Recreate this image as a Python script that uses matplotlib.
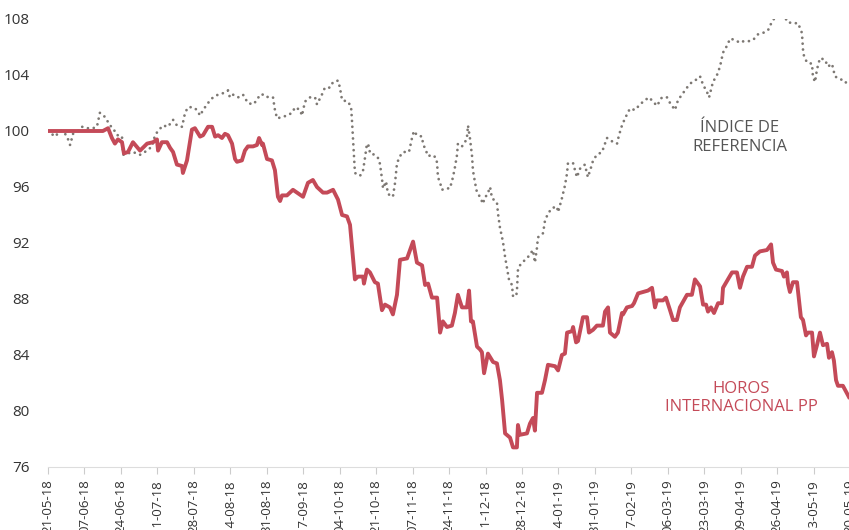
"""
Horos Internacional PP vs benchmark index (base 100)
"""

import numpy as np
import pandas as pd

import matplotlib
matplotlib.use("Agg")
import matplotlib.pyplot as plt
import matplotlib.dates as mdates

START = "2018-05-21"

# days since START, value
fund_day = [0, 25.6, 28.0, 29.8, 31.2, 32.6, 34.5, 35.4, 37.3, 39.6, 42.9, 46.2, 49.0, 50.8,
            51.3, 53.1, 55.5, 56.9, 58.3, 60.1, 62.5, 62.9, 64.8, 67.1, 68.5, 70.9, 72.3,
            74.6, 76.5, 77.9, 79.3, 81.1, 82.5, 83.9, 85.8, 87.2, 88.1, 90.4, 91.8, 93.2,
            95.6, 97.4, 98.4, 99.8, 100.2, 102.1, 104.4, 105.8, 107.2, 108.2, 109.1, 111.4,
            114.2, 118.9, 121.2, 123.5, 125.4, 128.2, 130.1, 132.9, 135.2, 137.1, 139.4,
            140.8, 143.1, 144.5, 146.9, 147.3, 148.7, 150.1, 152.4, 153.8, 155.7, 157.1,
            159.4, 160.8, 162.7, 164.1, 167.4, 168.8, 170.2, 172.0, 174.4, 175.8, 177.2,
            179.0, 181.4, 182.8, 184.1, 186.0, 188.3, 189.7, 191.1, 193.0, 195.3, 196.3,
            197.2, 198.1, 200.0, 201.4, 202.3, 203.3, 205.1, 207.5, 209.3, 210.7, 211.7,
            213.1, 215.4, 216.8, 218.6, 219.1, 220.0, 223.3, 224.7, 226.1, 227.0, 228.0,
            230.3, 231.7, 233.1, 236.4, 237.8, 239.6, 241.0, 242.0, 244.3, 244.8, 246.2,
            247.1, 249.4, 251.3, 252.2, 254.1, 255.9, 258.7, 259.7, 261.1, 262.0, 264.3,
            265.7, 267.6, 268.1, 269.9, 272.3, 273.2, 275.1, 277.4, 279.7, 281.6, 283.0,
            283.9, 286.7, 288.1, 290.0, 291.4, 293.2, 294.6, 297.9, 300.2, 301.6, 304.0,
            305.4, 306.8, 307.7, 309.1, 310.5, 312.4, 314.2, 314.7, 317.0, 318.9, 321.2,
            322.6, 324.0, 325.9, 328.2, 329.6, 331.9, 335.2, 337.1, 338.0, 339.4, 342.2,
            343.1, 344.5, 345.0, 345.9, 347.3, 349.2, 351.0, 352.0, 353.4, 354.3, 356.2,
            357.1, 358.5, 359.9, 361.3, 363.2, 364.1, 365.5, 366.4, 367.4, 368.3, 370.6,
            372.0, 373.4]
fund_val = [100.0, 100.0, 100.2, 99.5, 99.1, 99.4, 99.2, 98.4, 98.5, 99.2, 98.6, 99.1, 99.2, 99.4,
            98.6, 99.2, 99.2, 98.8, 98.5, 97.6, 97.5, 97.0, 97.9, 100.1, 100.2, 99.6, 99.7,
            100.3, 100.3, 99.6, 99.7, 99.5, 99.8, 99.7, 99.1, 98.0, 97.8, 97.9, 98.6, 98.9,
            98.9, 99.0, 99.5, 99.0, 99.1, 98.0, 97.9, 97.2, 95.3, 95.0, 95.4, 95.4,
            95.8, 95.3, 96.3, 96.5, 96.0, 95.6, 95.6, 95.8, 95.1, 94.0, 93.9,
            93.3, 89.4, 89.6, 89.6, 89.1, 90.1, 89.9, 89.2, 89.1, 87.2, 87.6,
            87.4, 86.9, 88.3, 90.8, 90.9, 91.5, 92.1, 90.6, 90.4, 89.0, 89.1,
            88.1, 88.1, 85.6, 86.4, 86.0, 86.1, 87.0, 88.3, 87.4, 87.4, 88.6,
            86.4, 86.4, 84.6, 84.4, 84.2, 82.7, 84.1, 83.5, 83.4, 82.2, 80.8,
            78.4, 78.1, 77.4, 77.4, 79.0, 78.3, 78.4, 79.1, 79.5, 78.6, 81.3,
            81.3, 82.2, 83.3, 83.2, 82.9, 84.0, 84.1, 85.6, 85.7, 86.0, 84.9,
            85.0, 86.7, 86.7, 85.6, 85.8, 86.1, 86.1, 87.1, 87.4, 85.6, 85.3,
            85.6, 87.0, 86.9, 87.4, 87.5, 87.7, 88.4, 88.5, 88.6, 88.8, 87.4,
            87.9, 87.9, 88.1, 87.2, 86.5, 86.5, 87.4, 88.3, 88.3, 89.4, 88.9,
            87.6, 87.6, 87.1, 87.4, 87.0, 87.7, 87.7, 88.8, 89.4, 89.9, 89.9,
            88.8, 89.6, 90.3, 90.3, 91.1, 91.4, 91.5, 91.9, 90.6, 90.1, 90.0,
            89.6, 89.9, 89.1, 88.5, 89.2, 89.2, 86.7, 86.5, 85.4, 85.6, 85.6,
            83.9, 84.7, 85.6, 84.7, 84.8, 83.8, 84.2, 83.6, 82.2, 81.8, 81.8,
            81.4, 81.0]

index_day = [0, 3.3, 5.6, 7.0, 8.9, 10.3, 11.7, 14.0, 15.9, 18.2, 21.0, 22.8, 24.2, 26.6,
             28.9, 30.3, 32.2, 33.6, 34.5, 35.0, 37.3, 39.6, 42.9, 46.2, 48.5, 49.9, 51.3,
             53.6, 55.9, 58.3, 60.1, 62.5, 63.9, 65.3, 67.6, 69.5, 70.9, 72.3, 74.6, 76.9,
             79.3, 81.6, 83.9, 84.8, 86.2, 88.6, 90.9, 93.2, 95.6, 97.4, 98.8, 101.2, 102.6,
             104.9, 105.8, 106.8, 109.1, 111.4, 113.8, 115.2, 117.5, 118.4, 119.8, 122.1,
             124.5, 125.4, 127.7, 129.1, 131.5, 132.9, 135.2, 136.1, 137.1, 139.9, 141.3,
             141.7, 142.2, 142.7, 143.1, 145.5, 146.9, 147.8, 148.7, 149.7, 150.1, 152.4,
             154.3, 154.8, 155.7, 156.2, 157.6, 158.5, 160.8, 161.8, 162.7, 164.1, 165.5,
             168.3, 169.7, 170.6, 172.0, 174.4, 174.8, 176.2, 177.2, 179.0, 180.9, 181.4,
             181.8, 182.8, 183.7, 185.1, 187.4, 188.8, 189.7, 190.7, 191.1, 193.0, 194.4,
             195.3, 195.8, 196.7, 197.7, 198.1, 199.1, 200.0, 201.4, 202.8, 203.7, 204.7,
             206.1, 207.0, 209.3, 209.8, 210.7, 212.1, 213.1, 214.0, 214.9, 216.3, 216.8,
             218.2, 218.6, 219.1, 220.0, 222.4, 223.8, 226.1, 227.0, 228.0, 228.4, 230.8,
             231.7, 233.1, 235.0, 237.3, 237.8, 239.6, 241.0, 242.0, 242.4, 244.8, 246.6,
             248.0, 250.3, 251.7, 253.6, 254.1, 255.9, 258.3, 260.6, 262.0, 263.4, 265.3,
             266.2, 267.6, 269.0, 271.3, 273.7, 276.0, 278.3, 280.2, 282.1, 283.9, 286.2,
             288.6, 290.0, 292.3, 293.7, 296.0, 297.9, 300.2, 302.6, 304.0, 305.4, 307.2,
             308.2, 310.0, 311.9, 313.3, 314.7, 316.6, 318.0, 320.3, 322.6, 324.0, 326.3,
             328.7, 331.0, 333.3, 335.7, 337.5, 338.9, 341.3, 343.6, 344.5, 346.9, 349.7,
             351.5, 352.0, 352.4, 353.8, 356.2, 356.6, 357.6, 358.5, 359.9, 362.2, 363.6,
             365.5, 366.9, 369.2, 371.6, 373.0]
index_val = [100.0, 99.6, 100.0, 100.0, 99.6, 99.0, 99.8, 100.0, 100.3, 100.2, 100.2, 100.3, 101.3, 101.0,
             100.4, 100.2, 99.7, 99.7, 99.6, 98.3, 98.4, 98.5, 98.3, 98.6, 98.9, 99.7, 100.0,
             100.4, 100.3, 100.8, 100.4, 100.3, 101.3, 101.7, 101.7, 101.5, 101.1, 101.5, 102.0, 102.4,
             102.6, 102.7, 102.9, 102.4, 102.6, 102.4, 102.6, 102.0, 101.9, 102.2, 102.6, 102.6, 102.4,
             102.4, 101.5, 100.9, 101.0, 101.1, 101.3, 101.7, 101.5, 101.1, 102.1, 102.4,
             102.4, 101.9, 102.6, 103.1, 103.1, 103.5, 103.6, 103.1, 102.2, 102.1, 101.7,
             100.8, 99.4, 97.9, 97.0, 96.8, 97.2, 98.1, 99.1, 98.9, 98.4, 98.3,
             98.0, 97.6, 96.6, 95.9, 96.4, 95.5, 95.3, 96.3, 97.7, 98.2, 98.5,
             98.5, 99.5, 100.0, 99.7, 99.6, 99.1, 98.6, 98.2, 98.3, 98.1, 97.7,
             96.7, 96.3, 95.8, 95.9, 95.9, 96.7, 97.4, 98.3, 99.1, 98.9, 99.2,
             99.5, 100.4, 99.5, 98.2, 97.2, 96.3, 95.6, 95.3, 94.8, 95.3, 95.4,
             96.0, 95.2, 94.9, 94.1, 93.1, 92.1, 91.0, 90.2, 89.4, 89.0, 88.2,
             88.2, 88.5, 90.1, 90.4, 90.8, 91.0, 91.5, 90.6, 91.7, 92.4, 92.7,
             93.6, 94.1, 94.5, 94.6, 94.2, 95.2, 96.1, 97.0, 97.7, 97.7, 96.7,
             97.3, 97.6, 96.7, 97.6, 97.9, 98.3, 98.5, 99.5, 99.4, 99.2, 99.1,
             99.7, 100.4, 100.9, 101.6, 101.5, 101.9, 102.2, 102.4, 102.1, 101.8, 102.4,
             102.4, 102.0, 101.5, 102.2, 102.7, 103.1, 103.5, 103.7, 103.9, 103.3, 102.8,
             102.4, 103.5, 104.0, 104.6, 105.6, 106.1, 106.6, 106.5, 106.3, 106.4, 106.4,
             106.5, 106.9, 107.0, 107.2, 107.8, 108.1, 108.4, 108.2, 107.8, 107.7, 107.7,
             107.0, 105.8, 105.4, 104.9, 104.8, 103.9, 103.5, 104.4, 105.2, 105.1, 104.6,
             104.8, 103.9, 103.7, 103.6, 103.1]

y_ticks = [76, 80, 84, 88, 92, 96, 100, 104, 108]

FUND_COLOR = "#C44A58"
INDEX_COLOR = "#7D7873"

plt.rcParams["font.family"] = ["Open Sans", "DejaVu Sans"]

start = pd.Timestamp(START)
fund_dates = start + pd.to_timedelta(fund_day, unit="D")
index_dates = start + pd.to_timedelta(index_day, unit="D")

W, H = 849, 530
fig = plt.figure(figsize=(W / 100, H / 100), dpi=100)
# axes runs a little past the right edge, like the original crop
ax = fig.add_axes([48 / W, (H - 467) / H, 806.5 / W, 448 / H])

ax.plot(index_dates, index_val, color=INDEX_COLOR, lw=2.0,
        linestyle=(0, (0.01, 2.1)), dash_capstyle="round")
ax.plot(fund_dates, fund_val, color=FUND_COLOR, lw=2.8, solid_joinstyle="round")

ax.set_ylim(76, 108)
ax.set_xlim(start, start + pd.Timedelta(days=376))
ax.set_yticks(y_ticks)
ax.set_xticks(pd.date_range(START, periods=23, freq="17D"))
ax.xaxis.set_major_formatter(mdates.DateFormatter("%d-%m-%y"))

for s in ["top", "right", "left"]:
    ax.spines[s].set_visible(False)
ax.spines["bottom"].set_color("#DDDDDD")
ax.tick_params(axis="y", length=0, pad=13, labelsize=11, labelcolor="#333333")
ax.tick_params(axis="x", length=5, color="#CCCCCC", pad=4, labelsize=9.5,
               labelcolor="#333333", labelrotation=90)

fig.text(740 / W, 1 - 137.5 / H, "ÍNDICE DE\nREFERENCIA", ha="center", va="center",
         fontsize=12, color="#555555", linespacing=1.2)
fig.text(741 / W, 1 - 398 / H, "HOROS\nINTERNACIONAL PP", ha="center", va="center",
         fontsize=12, color=FUND_COLOR, linespacing=1.2)

fig.savefig("out.png", dpi=100)
plt.close(fig)
